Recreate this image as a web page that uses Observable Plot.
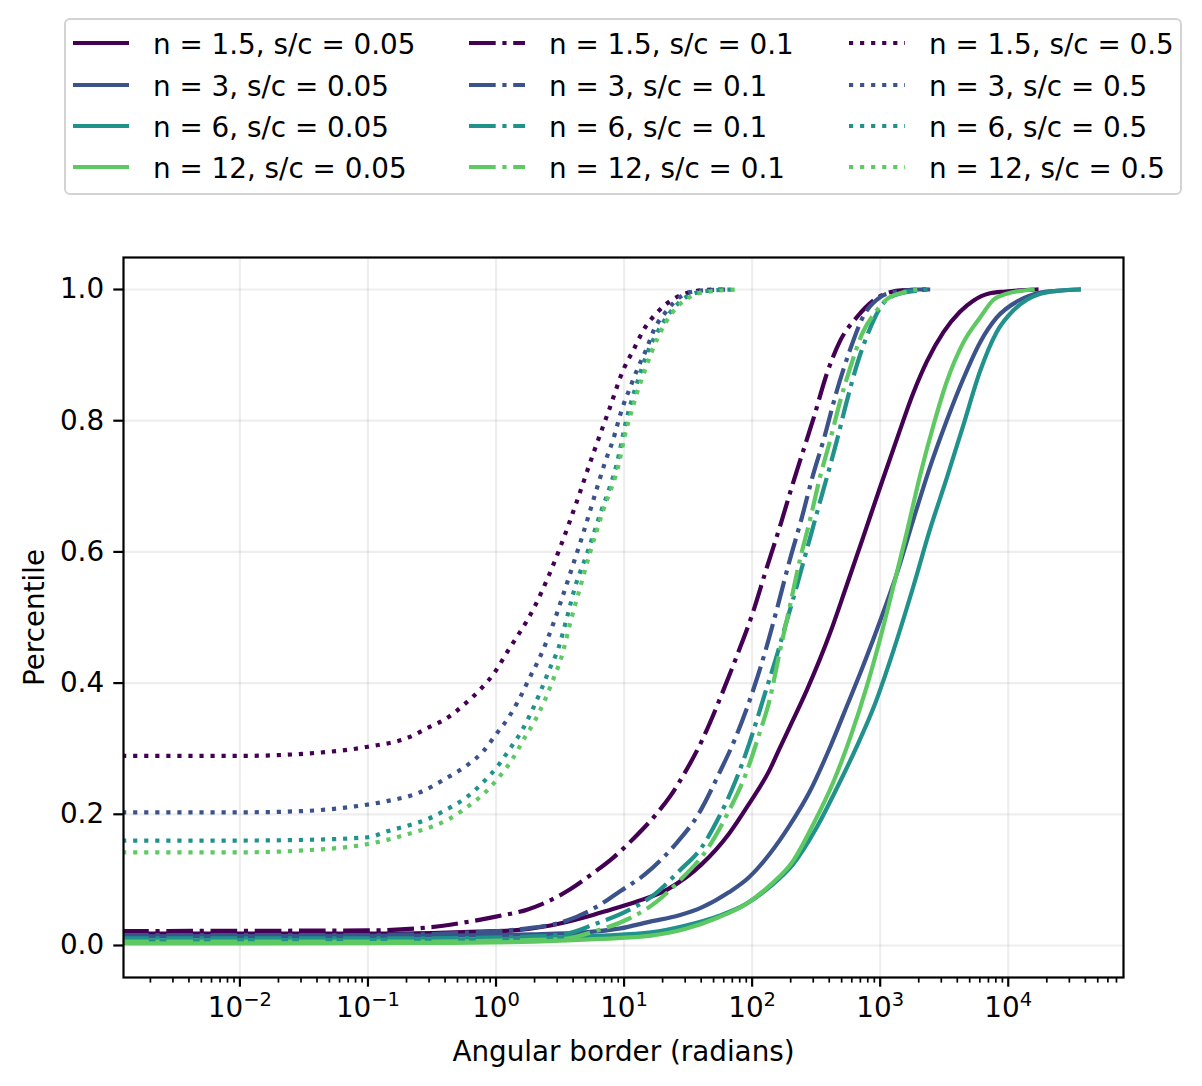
<!DOCTYPE html>
<html>
<head>
<meta charset="utf-8">
<script src="https://cdn.jsdelivr.net/npm/d3@7"></script>
<script src="https://cdn.jsdelivr.net/npm/@observablehq/plot@0.6"></script>
<style>
  html, body { margin: 0; padding: 0; background: #fff; overflow: hidden; }
  body { font-family: "DejaVu Sans", sans-serif; width: 1202px; }
  #legend { position: relative; height: 200px; width: 1202px; }
  #legend .box { position: absolute; left: 64px; top: 18px; width: 1114px; height: 173px;
    border: 2px solid #d3d3d3; border-radius: 6px; box-sizing: content-box; }
  #legend .entry { position: absolute; height: 40px; display: flex; align-items: center; }
  #legend .entry svg { display: block; }
  #legend .entry span { font-size: 27.8px; color: #000; margin-left: 24px; white-space: nowrap; line-height: 1; position: relative; top: 2px; }
  #chart svg { display: block; }
</style>
</head>
<body>
<div id="legend"><div class="box"></div></div>
<div id="chart"></div>
<script>
// ---- categories ----
const nLabels = ["1.5", "3", "6", "12"];
const scLabels = ["0.05", "0.1", "0.5"];
const nColors = ["#440154", "#3b528b", "#21918c", "#5ec962"];

// ---- series values: exponent = log10(angular border in radians), pct = percentile ----
// s/c = 0.05 (solid)
const sc005_n1_5_exp = [-2.92, -1.0, -0.5, -0.142, 0.137, 0.415, 0.694, 0.9, 1.1, 1.343, 1.607, 1.818, 1.976, 2.135, 2.221, 2.293, 2.429, 2.61, 2.74, 2.87, 3.0, 3.13, 3.26, 3.364, 3.494, 3.623, 3.727, 3.85, 3.98, 4.22];
const sc005_n1_5_pct = [0.018, 0.018, 0.019, 0.021, 0.023, 0.030, 0.043, 0.055, 0.067, 0.086, 0.124, 0.170, 0.216, 0.267, 0.303, 0.333, 0.390, 0.477, 0.550, 0.624, 0.699, 0.772, 0.843, 0.890, 0.935, 0.966, 0.983, 0.994, 0.997, 1.0];
const sc005_n3_exp = [-2.92, -0.5, 0.276, 0.694, 0.972, 1.195, 1.432, 1.607, 1.818, 1.976, 2.135, 2.293, 2.451, 2.61, 2.74, 2.87, 3.0, 3.13, 3.26, 3.39, 3.519, 3.649, 3.779, 3.909, 4.09, 4.245, 4.38, 4.55];
const sc005_n3_pct = [0.014, 0.015, 0.017, 0.020, 0.026, 0.036, 0.046, 0.058, 0.081, 0.104, 0.139, 0.183, 0.235, 0.303, 0.365, 0.428, 0.495, 0.567, 0.650, 0.730, 0.800, 0.864, 0.919, 0.957, 0.984, 0.995, 0.998, 1.0];
const sc005_n6_exp = [-2.92, -0.5, 0.3, 0.815, 1.211, 1.475, 1.739, 1.95, 2.135, 2.32, 2.504, 2.662, 2.821, 2.953, 3.104, 3.26, 3.39, 3.519, 3.649, 3.779, 3.909, 4.039, 4.143, 4.245, 4.38, 4.55];
const sc005_n6_pct = [0.008, 0.009, 0.011, 0.015, 0.020, 0.030, 0.045, 0.063, 0.089, 0.124, 0.180, 0.240, 0.305, 0.365, 0.450, 0.548, 0.635, 0.712, 0.793, 0.875, 0.935, 0.968, 0.984, 0.993, 0.998, 1.0];
const sc005_n12_exp = [-2.92, -0.5, 0.3, 0.815, 1.211, 1.475, 1.739, 1.95, 2.135, 2.32, 2.478, 2.636, 2.768, 2.9, 3.0, 3.104, 3.208, 3.312, 3.416, 3.519, 3.649, 3.779, 3.883, 3.98, 4.19];
const sc005_n12_pct = [0.003, 0.004, 0.006, 0.010, 0.015, 0.025, 0.043, 0.063, 0.091, 0.129, 0.185, 0.250, 0.318, 0.398, 0.468, 0.548, 0.630, 0.717, 0.793, 0.859, 0.919, 0.957, 0.984, 0.993, 1.0];
// s/c = 0.1 (dash-dot)
const sc01_n1_5_exp = [-2.92, -1.0, -0.504, -0.253, 0.0, 0.248, 0.415, 0.582, 0.749, 0.916, 1.084, 1.25, 1.362, 1.449, 1.607, 1.765, 1.884, 2.003, 2.108, 2.227, 2.319, 2.425, 2.48, 2.584, 2.688, 2.818, 2.953, 3.058, 3.19, 3.40];
const sc01_n1_5_pct = [0.022, 0.023, 0.028, 0.035, 0.044, 0.055, 0.068, 0.086, 0.109, 0.134, 0.165, 0.200, 0.228, 0.255, 0.312, 0.384, 0.443, 0.506, 0.572, 0.645, 0.705, 0.770, 0.804, 0.872, 0.922, 0.958, 0.984, 0.995, 0.999, 1.0];
const sc01_n3_exp = [-2.92, -1.0, -0.3, 0.195, 0.554, 0.777, 0.972, 1.167, 1.306, 1.418, 1.58, 1.739, 1.871, 2.016, 2.108, 2.187, 2.293, 2.385, 2.478, 2.557, 2.662, 2.768, 2.86, 3.005, 3.11, 3.30, 3.41];
const sc01_n3_pct = [0.016, 0.016, 0.019, 0.025, 0.038, 0.058, 0.083, 0.109, 0.134, 0.158, 0.200, 0.261, 0.317, 0.394, 0.452, 0.508, 0.587, 0.650, 0.719, 0.770, 0.846, 0.910, 0.956, 0.989, 0.996, 1.0, 1.0];
const sc01_n6_exp = [-2.92, -0.5, 0.2, 0.527, 0.777, 1.028, 1.25, 1.432, 1.607, 1.739, 1.871, 1.976, 2.108, 2.2, 2.253, 2.346, 2.425, 2.504, 2.662, 2.741, 2.821, 2.926, 3.005, 3.11, 3.27, 3.37];
const sc01_n6_pct = [0.011, 0.011, 0.013, 0.017, 0.033, 0.053, 0.080, 0.114, 0.150, 0.195, 0.251, 0.307, 0.389, 0.447, 0.483, 0.546, 0.602, 0.658, 0.770, 0.831, 0.887, 0.943, 0.974, 0.991, 0.998, 1.0];
const sc01_n12_exp = [-2.92, -0.5, 0.2, 0.527, 0.777, 1.028, 1.25, 1.418, 1.66, 1.818, 1.95, 2.055, 2.135, 2.215, 2.293, 2.372, 2.451, 2.530, 2.609, 2.689, 2.768, 2.86, 2.953, 3.058, 3.19, 3.30];
const sc01_n12_pct = [0.006, 0.006, 0.008, 0.010, 0.022, 0.040, 0.066, 0.096, 0.150, 0.205, 0.261, 0.322, 0.373, 0.447, 0.516, 0.587, 0.648, 0.714, 0.770, 0.831, 0.882, 0.933, 0.963, 0.986, 0.996, 1.0];
// s/c = 0.5 (dotted)
const sc05_n1_5_exp = [-2.92, -2.0, -1.45, -1.0, -0.685, -0.53, -0.38, -0.245, -0.12, -0.008, 0.08, 0.30, 0.507, 0.624, 0.763, 0.880, 0.997, 1.076, 1.154, 1.258, 1.388, 1.544, 1.70, 1.82];
const sc05_n1_5_pct = [0.289, 0.289, 0.293, 0.303, 0.317, 0.332, 0.347, 0.368, 0.391, 0.417, 0.445, 0.516, 0.610, 0.673, 0.752, 0.815, 0.879, 0.909, 0.939, 0.965, 0.986, 0.997, 1.0, 1.0];
const sc05_n3_exp = [-2.92, -2.0, -1.5, -1.103, -0.852, -0.60, -0.379, -0.231, -0.10, -0.003, 0.103, 0.187, 0.262, 0.337, 0.435, 0.518, 0.599, 0.677, 0.777, 0.852, 0.911, 0.984, 1.044, 1.107, 1.172, 1.237, 1.331, 1.44, 1.518, 1.65, 1.80];
const sc05_n3_pct = [0.203, 0.203, 0.205, 0.212, 0.220, 0.233, 0.256, 0.274, 0.296, 0.321, 0.349, 0.378, 0.408, 0.437, 0.484, 0.531, 0.579, 0.626, 0.690, 0.737, 0.769, 0.818, 0.849, 0.880, 0.908, 0.940, 0.967, 0.989, 0.996, 0.999, 1.0];
const sc05_n6_exp = [-2.92, -2.0, -1.5, -1.0, -0.85, -0.685, -0.53, -0.38, -0.23, -0.1, 0.011, 0.109, 0.206, 0.281, 0.351, 0.415, 0.485, 0.554, 0.618, 0.708, 0.763, 0.819, 0.875, 0.944, 1.016, 1.062, 1.115, 1.174, 1.29, 1.336, 1.44, 1.518, 1.65, 1.85];
const sc05_n6_pct = [0.160, 0.160, 0.161, 0.165, 0.174, 0.183, 0.193, 0.208, 0.226, 0.249, 0.273, 0.300, 0.329, 0.358, 0.389, 0.420, 0.452, 0.500, 0.547, 0.596, 0.628, 0.661, 0.691, 0.735, 0.800, 0.833, 0.866, 0.900, 0.945, 0.959, 0.982, 0.992, 0.998, 1.0];
const sc05_n12_exp = [-2.92, -2.0, -1.5, -1.02, -0.85, -0.685, -0.518, -0.365, -0.226, -0.092, 0.025, 0.128, 0.212, 0.304, 0.379, 0.443, 0.507, 0.588, 0.660, 0.730, 0.833, 0.966, 1.005, 1.05, 1.10, 1.154, 1.214, 1.323, 1.427, 1.492, 1.57, 1.88];
const sc05_n12_pct = [0.142, 0.142, 0.145, 0.154, 0.161, 0.170, 0.180, 0.193, 0.211, 0.232, 0.257, 0.284, 0.313, 0.343, 0.373, 0.404, 0.437, 0.498, 0.548, 0.596, 0.661, 0.740, 0.777, 0.809, 0.842, 0.872, 0.904, 0.949, 0.976, 0.986, 0.994, 1.0];

// ---- ticks ----
const xTickValues = [0.01, 0.1, 1, 10, 100, 1000, 10000];
const xTickExponents = ["\u22122", "\u22121", "0", "1", "2", "3", "4"];
const yTickValues = [0, 0.2, 0.4, 0.6, 0.8, 1.0];

// ---- build ----
const seriesTable = [
  [0, 0, sc005_n1_5_exp, sc005_n1_5_pct], [1, 0, sc005_n3_exp, sc005_n3_pct],
  [2, 0, sc005_n6_exp, sc005_n6_pct], [3, 0, sc005_n12_exp, sc005_n12_pct],
  [0, 1, sc01_n1_5_exp, sc01_n1_5_pct], [1, 1, sc01_n3_exp, sc01_n3_pct],
  [2, 1, sc01_n6_exp, sc01_n6_pct], [3, 1, sc01_n12_exp, sc01_n12_pct],
  [0, 2, sc05_n1_5_exp, sc05_n1_5_pct], [1, 2, sc05_n3_exp, sc05_n3_pct],
  [2, 2, sc05_n6_exp, sc05_n6_pct], [3, 2, sc05_n12_exp, sc05_n12_pct]
];
const dashes = [undefined, "26.7,6.67,4.17,6.67", "4.17,6.88"];
const LW = 4.2;

const xDomain = [Math.pow(10, -2.909), Math.pow(10, 4.9)];
const minorTicks = d3.range(-3, 5).flatMap(k => d3.range(2, 10).map(m => m * Math.pow(10, k)))
  .filter(v => v > xDomain[0] && v < xDomain[1]);

const lineMarks = seriesTable.map(([ni, si, ex, pc]) => {
  const data = ex.map((e, i) => ({x: Math.pow(10, e), y: pc[i]}));
  return Plot.line(data, {
    x: "x", y: "y", stroke: nColors[ni], strokeWidth: LW,
    strokeDasharray: dashes[si],
    strokeLinecap: si === 0 ? "square" : "butt",
    strokeLinejoin: "round",
    curve: "monotone-x", clip: true
  });
});

const chart = Plot.plot({
  width: 1202,
  height: 886,
  marginTop: 57,
  marginBottom: 109,
  marginLeft: 123,
  marginRight: 79,
  style: {fontFamily: "DejaVu Sans", color: "#000", background: "#fff", overflow: "visible"},
  x: {type: "log", domain: xDomain},
  y: {domain: [-0.0488, 1.0488]},
  marks: [
    Plot.gridX(xTickValues, {stroke: "#b0b0b0", strokeOpacity: 0.22, strokeWidth: 2.2}),
    Plot.gridY(yTickValues, {stroke: "#b0b0b0", strokeOpacity: 0.22, strokeWidth: 2.2}),
    ...lineMarks,
    Plot.frame({stroke: "#000", strokeWidth: 2.2}),
    Plot.axisX(minorTicks, {tickSize: 5.6, strokeWidth: 1.7, tickFormat: () => "", label: null}),
    Plot.axisX(xTickValues, {tickSize: 9.7, tickPadding: 9.7, strokeWidth: 2.2, fontSize: 27.8,
      tickFormat: (d) => "10^" + xTickExponents[xTickValues.indexOf(d)], label: null}),
    Plot.axisY(yTickValues, {tickSize: 9.7, tickPadding: 9.7, strokeWidth: 2.2, fontSize: 27.8,
      tickFormat: d3.format(".1f"), label: null}),
    Plot.text(["Percentile"], {frameAnchor: "left", dx: -88, rotate: -90, fontSize: 27.8,
      textAnchor: "middle", lineAnchor: "middle", fill: "#000"}),
    Plot.text(["Angular border (radians)"], {frameAnchor: "bottom", dy: 75, fontSize: 27.8,
      textAnchor: "middle", lineAnchor: "middle", fill: "#000"})
  ]
});
document.getElementById("chart").appendChild(chart);

// render exponents as superscripts
d3.select(chart).selectAll('g[aria-label="x-axis tick label"] text').each(function () {
  const t = this.textContent;
  if (!t.startsWith("10^")) return;
  const ex = t.slice(3);
  const sel = d3.select(this);
  sel.text(null);
  sel.append("tspan").text("10");
  sel.append("tspan").attr("dy", "-11").attr("font-size", "19.5px").text(ex);
});

// ---- legend (HTML, drawn from the same arrays) ----
const legend = document.getElementById("legend");
const colX = [73, 469, 849];
const rowY = [23, 65, 106, 147];
scLabels.forEach((sc, si) => {
  nLabels.forEach((n, ni) => {
    const e = document.createElement("div");
    e.className = "entry";
    e.style.left = colX[si] + "px";
    e.style.top = rowY[ni] + "px";
    const s = d3.create("svg").attr("width", 56).attr("height", 20);
    s.append("line").attr("x1", 0).attr("x2", 56).attr("y1", 10).attr("y2", 10)
      .attr("stroke", nColors[ni]).attr("stroke-width", LW)
      .attr("stroke-dasharray", dashes[si] || null)
      .attr("stroke-linecap", si === 0 ? "square" : "butt");
    e.appendChild(s.node());
    const sp = document.createElement("span");
    sp.textContent = "n = " + n + ", s/c = " + sc;
    e.appendChild(sp);
    legend.appendChild(e);
  });
});
</script>
</body>
</html>
